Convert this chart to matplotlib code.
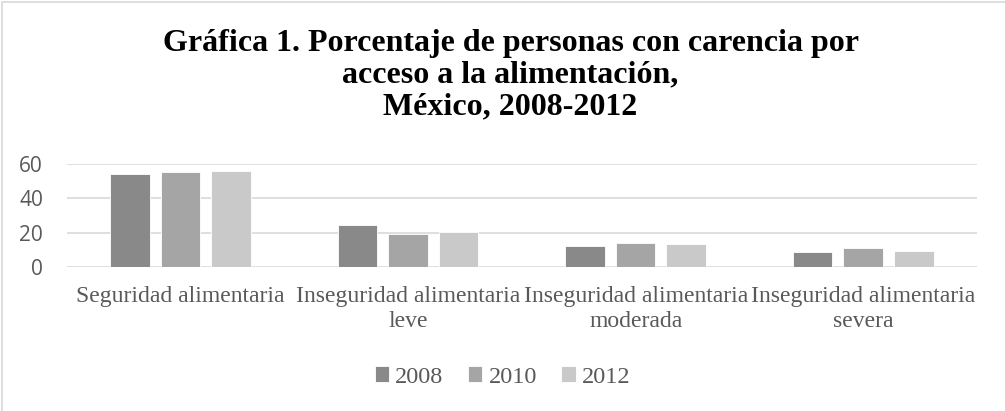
import matplotlib
matplotlib.use('Agg')
import matplotlib.pyplot as plt
import numpy as np
from matplotlib.patches import Rectangle

# carencia por acceso a la alimentacion, porcentajes
categorias = ['Seguridad alimentaria', 'Inseguridad alimentaria\nleve',
              'Inseguridad alimentaria\nmoderada', 'Inseguridad alimentaria\nsevera']
anios = ['2008', '2010', '2012']
v2008 = [53.9, 24.2, 12.5, 8.7]
v2010 = [55.6, 19.5, 14.0, 10.8]
v2012 = [56.1, 20.4, 13.4, 9.6]
colores = ['#898989', '#a5a5a5', '#c9c9c9']

fig = plt.figure(figsize=(10.05, 4.11), dpi=100)
ax = fig.add_axes([66.7/1005, 1-267/411, (977-66.7)/1005, (267-164)/411 * 1.0])

x = np.arange(len(categorias))
ancho = 0.174
paso = 0.222
for i, (serie, c) in enumerate(zip([v2008, v2010, v2012], colores)):
    ax.bar(x + (i - 1) * paso, serie, ancho, color=c, edgecolor='white',
           linewidth=0.6, label=anios[i], zorder=3)

ax.set_xlim(-0.5, 3.5)
ax.set_ylim(0, 60)
ax.set_yticks([0, 20, 40, 60])
ax.yaxis.grid(True, color='#d9d9d9', linewidth=1.2, zorder=0)
for s in ax.spines.values():
    s.set_visible(False)
ax.tick_params(axis='both', length=0)
ax.tick_params(axis='y', labelsize=15, labelcolor='#595959', pad=17)
for t in ax.get_yticklabels():
    t.set_family('Open Sans')
ax.set_xticks(x)
ax.set_xticklabels(categorias, family='Liberation Serif', fontsize=17,
                   color='#595959', linespacing=1.2)
ax.tick_params(axis='x', pad=14)

fig.text(0.508, 1 - 29/411, 'Gráfica 1. Porcentaje de personas con carencia por\n'
         'acceso a la alimentación,\nMéxico, 2008-2012',
         ha='center', va='top', family='Liberation Serif', fontweight='bold',
         fontsize=23, linespacing=1.13, color='black')

fig.legend(loc='center', bbox_to_anchor=(0.5, 1 - 377/411), ncol=3, frameon=False,
           prop={'family': 'Liberation Serif', 'size': 17.5}, labelcolor='#595959',
           handlelength=0.6, handleheight=0.6, handletextpad=0.25, columnspacing=1.0)

fig.patches.append(Rectangle((2/1005, -0.05), 1.2, 1 - 1.5/411 + 0.05,
                             transform=fig.transFigure, fill=False,
                             edgecolor='#d9d9d9', linewidth=1.2))

fig.savefig('out.png', dpi=100)
